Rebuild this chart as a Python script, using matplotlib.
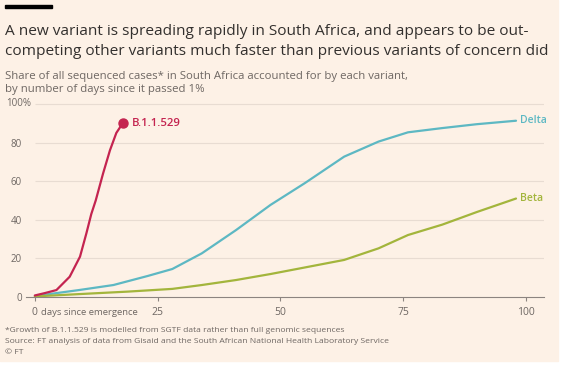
import matplotlib.pyplot as plt
from matplotlib.patches import Rectangle
from matplotlib.transforms import blended_transform_factory

# values (days since variant passed 1%, share of sequenced cases %)
omicron_days = [0, 2, 4.4, 7.1, 9.2, 10.5, 11.5, 12.4, 13.9, 15.3, 16.6, 17.9]
omicron_share = [0.8, 2, 3.6, 10.5, 20.9, 33, 43, 50, 64, 76, 85, 90]

delta_days = [0, 9, 16, 23, 28, 34, 41, 48, 55, 63, 70, 76, 83, 90, 98]
delta_share = [0.5, 3.6, 6.2, 10.9, 14.5, 22.6, 34.7, 47.7, 59, 72.7, 80.5, 85.3, 87.5, 89.5, 91.3]

beta_days = [0, 9, 19, 28, 34, 41, 48, 55, 63, 70, 76, 83, 90, 98]
beta_share = [0.3, 1.5, 2.8, 4.2, 6.2, 8.8, 11.9, 15.3, 19.2, 25.2, 32.1, 37.5, 44, 51]

x_ticks = [0, 25, 50, 75, 100]
y_ticks = [0, 20, 40, 60, 80, 100]
y_labels = ["0", "20", "40", "60", "80", "100%"]

BG = "#fdf1e6"
RED = "#c42450"
TEAL = "#5db8c3"
GREEN = "#a3b53c"
GREY = "#6e6763"
DARK = "#33302e"
AXIS = "#8c8480"

plt.rcParams["font.family"] = ["Open Sans", "DejaVu Sans"]

fig = plt.figure(figsize=(5.77, 3.72), dpi=100)
fig.patch.set_facecolor("white")
fig.patches.append(Rectangle((0, 1 - 361 / 372), 558 / 577, 361 / 372,
                             transform=fig.transFigure, color=BG, zorder=-10))
fig.patches.append(Rectangle((5 / 577, 1 - 8 / 372), 47 / 577, 3 / 372,
                             transform=fig.transFigure, color="black", zorder=-5))

ax = fig.add_axes([26 / 577, 1 - 297 / 372, 518 / 577, 195 / 372])
ax.set_facecolor("none")

# gridlines start at day 0, the axis line a little further left
ax.hlines(y_ticks[1:], 0, 103.7, color="#e8dcd2", lw=0.8, zorder=0)

ax.plot(delta_days, delta_share, color=TEAL, lw=1.6, solid_capstyle="round")
ax.plot(beta_days, beta_share, color=GREEN, lw=1.6, solid_capstyle="round")
ax.plot(omicron_days, omicron_share, color=RED, lw=1.6, solid_capstyle="round")
ax.plot(omicron_days[-1], omicron_share[-1], "o", color=RED, ms=6.5)

ax.text(omicron_days[-1] + 1.8, omicron_share[-1], "B.1.1.529", color=RED,
        fontsize=8.2, fontweight="semibold", va="center")
ax.text(delta_days[-1] + 0.8, delta_share[-1], "Delta", color=TEAL,
        fontsize=7.5, fontweight="semibold", va="center")
ax.text(beta_days[-1] + 0.8, beta_share[-1], "Beta", color=GREEN,
        fontsize=7.5, fontweight="semibold", va="center")

ax.set_xlim(-1.8, 103.7)
ax.set_ylim(0, 101)
ax.set_yticks(y_ticks)
ax.set_yticklabels(y_labels[:-1] + [""])
ax.set_xticks(x_ticks)
ax.set_xticklabels([""] + [str(t) for t in x_ticks[1:]])
ax.tick_params(axis="y", length=0, pad=3, labelsize=7, labelcolor=GREY)
ax.tick_params(axis="x", length=3, width=0.8, color=AXIS, pad=4,
               labelsize=7.5, labelcolor=GREY)
for s in ["top", "right", "left"]:
    ax.spines[s].set_visible(False)
ax.spines["bottom"].set_color(AXIS)
ax.spines["bottom"].set_linewidth(0.8)

# top label sits left-aligned at the chart edge
ax.text(6 / 577, y_ticks[-1], y_labels[-1],
        transform=blended_transform_factory(fig.transFigure, ax.transData),
        fontsize=7, color=GREY, va="center", ha="left")

t0 = ax.annotate("0", xy=(0, 0), xycoords=("data", "axes fraction"),
                 xytext=(0, -7), textcoords="offset points",
                 ha="center", va="top", fontsize=7.5, color=GREY)
ax.annotate("days since emergence", xy=(1, 0), xycoords=t0,
            xytext=(2.5, 0.3), textcoords="offset points",
            ha="left", va="bottom", fontsize=6.8, color=GREY)

# multi-line texts: y is the baseline of the last line
fig.text(5 / 577, 1 - 55 / 372,
         "A new variant is spreading rapidly in South Africa, and appears to be out-\n"
         "competing other variants much faster than previous variants of concern did",
         fontsize=11.05, color=DARK, va="baseline", linespacing=1.42)
fig.text(5 / 577, 1 - 92 / 372,
         "Share of all sequenced cases* in South Africa accounted for by each variant,\n"
         "by number of days since it passed 1%",
         fontsize=8.2, color=GREY, va="baseline", linespacing=1.2)
fig.text(5 / 577, 1 - 354 / 372,
         "*Growth of B.1.1.529 is modelled from SGTF data rather than full genomic sequences\n"
         "Source: FT analysis of data from Gisaid and the South African National Health Laboratory Service\n"
         "\u00a9 FT",
         fontsize=6.1, color=GREY, va="baseline", linespacing=1.75)

fig.savefig("out.png", dpi=100)
